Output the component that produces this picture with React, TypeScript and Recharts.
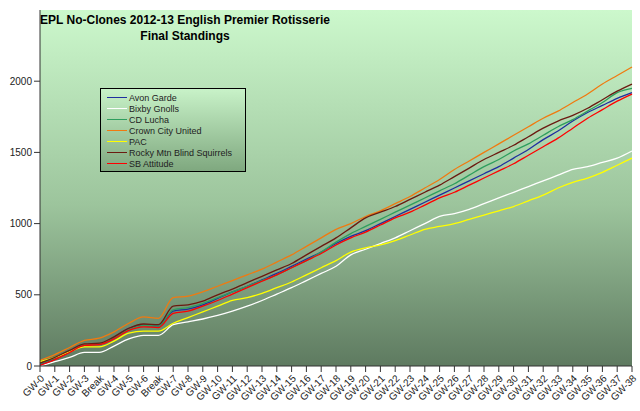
import React from 'react';
import { LineChart, Line, XAxis, YAxis, CartesianGrid } from 'recharts';

const labels = ['GW-0', 'GW-1', 'GW-2', 'GW-3', 'Break', 'GW-4', 'GW-5', 'GW-6', 'Break',
  ...Array.from({ length: 32 }, (_, k) => `GW-${k + 7}`)];

const crown = [40, 80, 130, 180, 195, 240, 300, 345, 335, 480, 490, 520, 560, 600, 640, 680, 730, 780, 840, 900, 960, 1000, 1050, 1090, 1140, 1190, 1250, 1310, 1380, 1440, 1500, 1560, 1620, 1680, 1740, 1790, 1850, 1910, 1980, 2040, 2100];
const rocky = [20, 60, 110, 155, 160, 205, 265, 295, 290, 420, 430, 455, 500, 540, 585, 630, 675, 720, 780, 840, 900, 970, 1040, 1080, 1120, 1170, 1220, 1270, 1330, 1390, 1450, 1500, 1550, 1610, 1670, 1720, 1760, 1810, 1870, 1930, 1980];
const lucha = [15, 55, 105, 150, 155, 200, 255, 285, 280, 395, 410, 440, 480, 520, 560, 600, 640, 690, 740, 800, 870, 930, 980, 1030, 1080, 1130, 1180, 1230, 1280, 1340, 1400, 1450, 1510, 1560, 1620, 1680, 1730, 1790, 1850, 1920, 1950];
const avon = [10, 50, 100, 150, 155, 200, 265, 285, 280, 385, 400, 430, 475, 520, 560, 605, 650, 700, 750, 800, 860, 910, 950, 1000, 1050, 1100, 1150, 1200, 1250, 1300, 1350, 1400, 1460, 1520, 1590, 1650, 1720, 1780, 1830, 1880, 1920];
const sb = [5, 45, 95, 145, 150, 190, 250, 275, 270, 370, 385, 420, 460, 505, 550, 595, 640, 690, 740, 790, 850, 900, 940, 990, 1040, 1080, 1130, 1180, 1220, 1270, 1320, 1370, 1420, 1480, 1540, 1600, 1670, 1740, 1800, 1860, 1910];
const bixby = [0, 30, 60, 95, 95, 140, 190, 215, 215, 290, 310, 330, 355, 385, 420, 460, 505, 550, 600, 650, 700, 780, 820, 860, 900, 950, 1000, 1050, 1070, 1100, 1140, 1180, 1220, 1260, 1300, 1340, 1380, 1400, 1430, 1460, 1510];
const pac = [30, 60, 100, 135, 135, 175, 230, 245, 245, 300, 340, 380, 420, 460, 480, 510, 550, 590, 640, 690, 740, 800, 830, 850, 880, 920, 960, 980, 1000, 1030, 1060, 1090, 1120, 1160, 1200, 1250, 1290, 1320, 1360, 1410, 1460];

const series = [
  { key: 'Avon Garde', color: '#1f2f9f', values: avon },
  { key: 'Bixby Gnolls', color: '#ffffff', values: bixby },
  { key: 'CD Lucha', color: '#2e9e5e', values: lucha },
  { key: 'Crown City United', color: '#f07a10', values: crown },
  { key: 'PAC', color: '#ffff00', values: pac },
  { key: 'Rocky Mtn Blind Squirrels', color: '#6b1a10', values: rocky },
  { key: 'SB Attitude', color: '#ff0000', values: sb },
];

const data = labels.map((_, i) => {
  const row: Record<string, number> = { i };
  series.forEach(s => { row[s.key] = s.values[i]; });
  return row;
});

function LegendBox() {
  return (
    <div style={{
      position: 'absolute', left: 100, top: 88, boxSizing: 'border-box', height: 84,
      border: '1px solid #000', background: 'linear-gradient(#c8f2c8, #7fa87f)',
      padding: '3px 6px', width: 146, fontSize: 9, color: '#222',
    }}>
      {series.map(s => (
        <div key={s.key} style={{ display: 'flex', alignItems: 'center', height: 11 }}>
          <span style={{ display: 'inline-block', width: 20, height: 1.5, background: s.color, marginRight: 2 }} />
          {s.key}
        </div>
      ))}
    </div>
  );
}

export default function App() {
  return (
    <div style={{ position: 'absolute', left: 0, top: 0, width: 640, height: 411, background: '#fff', fontFamily: 'Arial, "Liberation Sans"' }}>
      <LineChart width={640} height={411} data={data} margin={{ top: 10, right: 8, bottom: 0, left: 0 }}>
        <defs>
          <linearGradient id="bg" x1="0" y1="0" x2="0" y2="1">
            <stop offset="0%" stopColor="#ccf8cc" />
            <stop offset="55%" stopColor="#9cc49c" />
            <stop offset="100%" stopColor="#5e7a60" />
          </linearGradient>
        </defs>
        <CartesianGrid horizontal={false} vertical={false} fill="url(#bg)" />
        <XAxis dataKey="i" type="category" interval={0} height={45} tickFormatter={(v: number) => labels[v]}
          tick={{ fontSize: 10, fill: '#222', angle: -45, textAnchor: 'end' } as any}
          axisLine={{ stroke: '#333' }} tickLine={{ stroke: '#333' }} />
        <YAxis domain={[0, 2500]} ticks={[0, 500, 1000, 1500, 2000]} width={40}
          tick={{ fontSize: 10, fill: '#222' }} axisLine={{ stroke: '#333' }} tickLine={{ stroke: '#333' }} />
        {series.map(s => (
          <Line key={s.key} type="monotone" dataKey={s.key} stroke={s.color} strokeWidth={1.3} dot={false} isAnimationActive={false} />
        ))}
      </LineChart>
      <LegendBox />
      <div style={{ position: 'absolute', left: 40, top: 12, width: 290, textAlign: 'center', fontWeight: 'bold', fontSize: 12, lineHeight: '16px', color: '#000' }}>
        EPL No-Clones 2012-13 English Premier Rotisserie<br />Final Standings
      </div>
    </div>
  );
}
